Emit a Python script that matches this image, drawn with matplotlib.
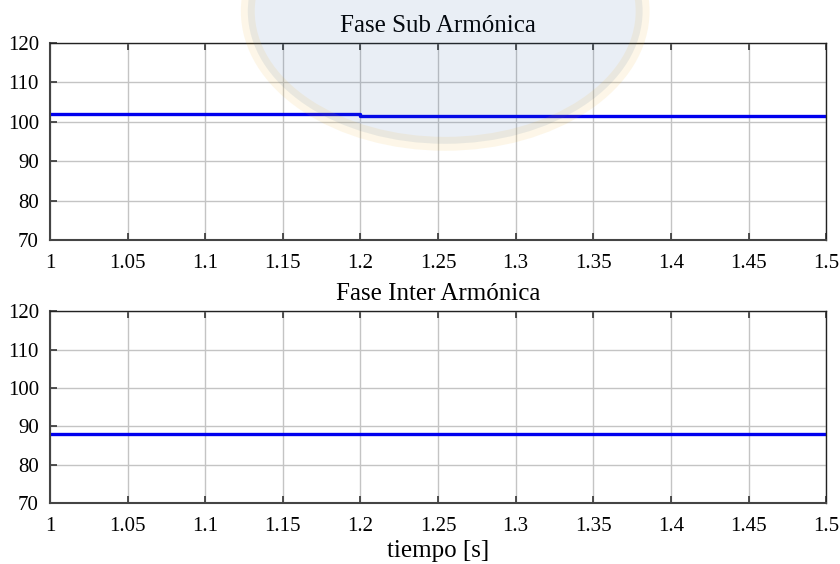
import matplotlib
matplotlib.use("Agg")
import matplotlib.pyplot as plt
from matplotlib.patches import Ellipse

# time instants where the phase signals change (s)
t_sub = [1.0, 1.2, 1.2, 1.5]
fase_sub = [102.0, 102.0, 101.5, 101.5]

t_inter = [1.0, 1.2, 1.5]
fase_inter = [88.0, 88.0, 88.0]

x_ticks = [1, 1.05, 1.1, 1.15, 1.2, 1.25, 1.3, 1.35, 1.4, 1.45, 1.5]
x_labels = ["1", "1.05", "1.1", "1.15", "1.2", "1.25", "1.3", "1.35", "1.4", "1.45", "1.5"]
y_ticks = [70, 80, 90, 100, 110, 120]

plt.rcParams["font.family"] = ["Liberation Serif", "DejaVu Serif"]


def style_axis(ax, title):
    ax.set_xlim(1, 1.5)
    ax.set_ylim(70, 120)
    ax.set_xticks(x_ticks)
    ax.set_xticklabels(x_labels)
    ax.set_yticks(y_ticks)
    ax.tick_params(direction="in", length=5, width=1.2, color="#333333",
                   labelsize=15, top=True, right=False)
    ax.tick_params(axis="x", pad=10)
    ax.tick_params(axis="y", pad=8)
    ax.grid(True, color="#c4c4c4", linewidth=1.0)
    for side in ["left", "bottom"]:
        ax.spines[side].set_color("#444444")
        ax.spines[side].set_linewidth(1.5)
    for side in ["top", "right"]:
        ax.spines[side].set_color("#222222")
        ax.spines[side].set_linewidth(1.0)
    ax.set_title(title, fontsize=18, pad=8)


fig = plt.figure(figsize=(8.4, 5.64), dpi=100)
ax1 = fig.add_axes([0.0595, 0.574, 0.924, 0.350])
ax2 = fig.add_axes([0.0595, 0.108, 0.924, 0.340])

ax1.plot(t_sub, fase_sub, color="#0000ee", linewidth=2.4)
style_axis(ax1, "Fase Sub Armónica")

ax2.plot(t_inter, fase_inter, color="#0000ee", linewidth=2.4)
style_axis(ax2, "Fase Inter Armónica")
ax2.set_xlabel("tiempo [s]", fontsize=18, labelpad=3)

# faint crest in the background at the top
crest = Ellipse((0.53, 0.98), 0.47, 0.47, transform=fig.transFigure,
                facecolor="#3060a0", edgecolor="#f0b020", linewidth=10,
                alpha=0.10, zorder=10)
fig.patches.append(crest)

fig.savefig("out.png", dpi=100)
